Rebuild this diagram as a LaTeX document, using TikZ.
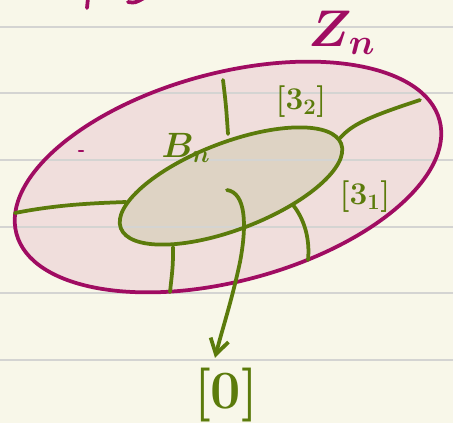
\documentclass[tikz,border=0pt]{standalone}
\usepackage{fix-cm}
\usepackage{tikz}
\usetikzlibrary{arrows.meta,calc}
\definecolor{paper}{HTML}{F8F7E9}
\definecolor{rule}{HTML}{D4D4D2}
\definecolor{zcol}{HTML}{A00C62}
\definecolor{zfill}{HTML}{F0DEDC}
\definecolor{bcol}{HTML}{5B7B0B}
\definecolor{bfill}{HTML}{DED3C4}
\tikzset{
  pen/.style={draw=#1,line width=3.2pt,line cap=round,line join=round},
  pen/.default=bcol,
  lab/.style={text=#1,inner sep=0pt},
  lab/.default=bcol,
  arr/.style={pen=bcol,-{Straight Barb[length=4.5mm,width=5.5mm]}},
  outer/.style={rotate around={15:(228,177)}},
  inner/.style={rotate around={21:(231,186)}},
}

\begin{document}
\begin{tikzpicture}[x=0.03cm,y=-0.03cm]
  \fill[paper] (0,0) rectangle (453,423);
  \useasboundingbox (0,0) rectangle (453,423);
  \fill[zfill,outer] (228,177) ellipse [x radius=6.57cm,y radius=3.12cm];
  \fill[bfill,inner] (231,186) ellipse [x radius=3.54cm,y radius=1.305cm];
  \foreach \y in {27,93,160,227,293,360}
    \draw[rule,line width=1.2pt] (0,\y) -- (453,\y);
  \draw[pen=zcol,outer] (228,177) ellipse [x radius=6.57cm,y radius=3.12cm];
  \draw[pen,inner] (231,186) ellipse [x radius=3.54cm,y radius=1.305cm];

  \draw[pen] (15,213) .. controls (60,204) and (100,203) .. (126,202);
  \draw[pen] (223,80) .. controls (226,105) .. (228,134);
  \draw[pen] (340,138) .. controls (352,125) and (365,118) .. (420,100);
  \draw[pen] (293,205) .. controls (305,220) and (310,240) .. (308,260);
  \draw[pen] (173,247) .. controls (173,265) .. (170,292);

  \draw[pen=zcol] (88,-2) -- (87,8);
  \draw[pen=zcol] (128,2) .. controls (135,3) .. (144,-2);
  \draw[pen=zcol,line width=2pt] (79,151) -- (83,151);

  \node[lab=zcol,font=\fontsize{44}{44}\selectfont\boldmath] (zn) at (342,33) {$Z_n$};
  \node[lab,font=\fontsize{30}{30}\selectfont\boldmath] (bn) at (186,148) {$B_n$};
  \node[lab,font=\fontsize{27}{27}\selectfont\boldmath] (b2) at (301,102) {$[3_2]$};
  \node[lab,font=\fontsize{27}{27}\selectfont\boldmath] (b1) at (365,197) {$[3_1]$};
  \node[lab,font=\fontsize{46}{46}\selectfont\boldmath] (zero) at (226,395) {$[0]$};

  \coordinate (core) at (227,190);
  \draw[arr] (core) .. controls (246,193) and (247,225) .. (240,262)
    .. controls (232,300) and (222,330) .. ($(zero.north)+(-11,-10)$);
\end{tikzpicture}
\end{document}
